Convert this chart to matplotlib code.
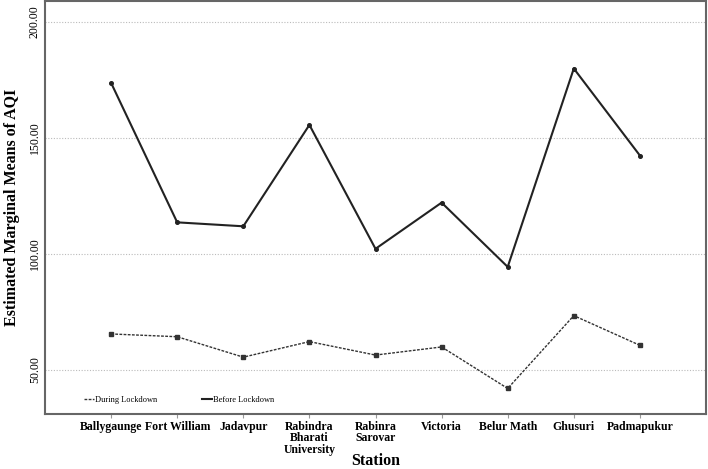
import matplotlib
matplotlib.use("Agg")
import matplotlib.pyplot as plt
from matplotlib.lines import Line2D

stations = ["Ballygaunge", "Fort William", "Jadavpur", "Rabindra\nBharati\nUniversity",
            "Rabinra\nSarovar", "Victoria", "Belur Math", "Ghusuri", "Padmapukur"]
before_lockdown = [173.7, 113.6, 111.9, 155.6, 102.2, 122.1, 94.4, 179.9, 142.4]
during_lockdown = [65.5, 64.3, 55.5, 62.2, 56.4, 59.9, 42.0, 73.4, 60.6]
y_ticks = [50, 100, 150, 200]
y_tick_labels = ["50.00", "100.00", "150.00", "200.00"]

plt.rcParams['font.family'] = ['Liberation Serif', 'DejaVu Serif']

fig = plt.figure(figsize=(7.08, 4.69), dpi=100)
ax = fig.add_axes([45/708, 1 - 414/469, 661/708, 413/469])

x = list(range(1, len(stations) + 1))
ax.plot(x, before_lockdown, color='#222222', lw=1.5, ls='-', marker='o', ms=2.6, zorder=3)
ax.plot(x, during_lockdown, color='#333333', lw=1.0, ls=(0, (2, 1)), marker='s', ms=3.0, zorder=3)

ax.set_xlim(0, 10)
ax.set_ylim(31, 209)
ax.set_yticks(y_ticks)
ax.set_yticklabels(y_tick_labels, rotation=90, va='center', fontsize=8.5)
ax.set_xticks(x)
ax.set_xticklabels(stations, fontsize=8.5, fontweight='bold', linespacing=0.95)
ax.tick_params(axis='x', length=3, color='#999999', pad=2)
ax.tick_params(axis='y', length=0, pad=3)

for yt in y_ticks:
    ax.axhline(yt, color='#bbbbbb', lw=0.8, ls=(0, (1, 1.5)), zorder=1)

for s in ax.spines.values():
    s.set_color('#666666')
    s.set_linewidth(1.5)

ax.set_ylabel("Estimated Marginal Means of AQI", fontsize=11.5, fontweight='bold', labelpad=6)
ax.set_xlabel("Station", fontsize=11.5, fontweight='bold')
ax.xaxis.set_label_coords(0.5, -0.095)

handles = [Line2D([0], [0], color='#333333', lw=1.0, ls=(0, (2, 1))),
           Line2D([0], [0], color='#222222', lw=1.5)]
ax.legend(handles, ["During Lockdown", "Before Lockdown"], loc='lower left',
          bbox_to_anchor=(39/661, 10/413), ncol=2, frameon=False, fontsize=6,
          handlelength=1.2, handletextpad=0.1, columnspacing=5.4,
          borderaxespad=0, borderpad=0)

fig.savefig("out.png", dpi=100)
